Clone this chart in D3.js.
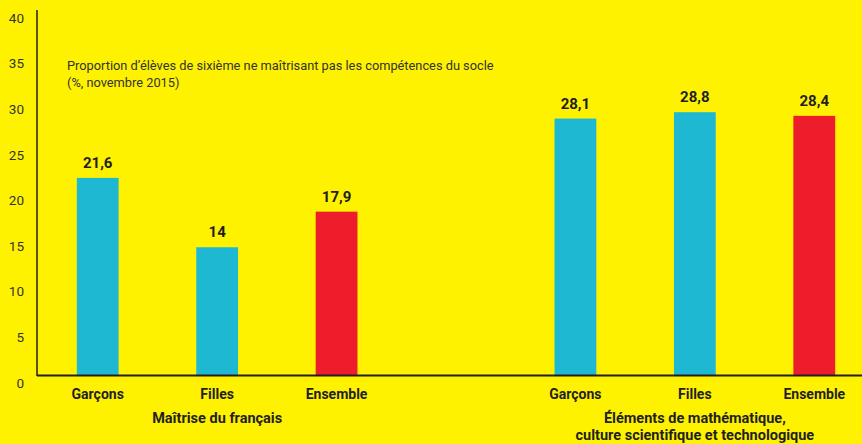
<!DOCTYPE html>
<html>
<head>
<meta charset="utf-8">
<script src="https://cdn.jsdelivr.net/npm/d3@7"></script>
<style>
  html, body { margin: 0; padding: 0; background: #fff200; }
  svg { display: block; font-family: "Roboto", "DejaVu Sans", sans-serif; }
</style>
</head>
<body>
<div id="chart"></div>
<script>
// data
const slots = ["fr-g", "fr-f", "fr-e", "gap", "ma-g", "ma-f", "ma-e"];
const categories = ["Garçons", "Filles", "Ensemble", "Garçons", "Filles", "Ensemble"];
const keys = ["fr-g", "fr-f", "fr-e", "ma-g", "ma-f", "ma-e"];
const values = [21.6, 14, 17.9, 28.1, 28.8, 28.4];
const isTotal = [false, false, true, false, false, true];
const groupLabels = [["Maîtrise du français"], ["Éléments de mathématique,", "culture scientifique et technologique"]];
const groupCenters = [["fr-f"], ["ma-f"]];
const yTicks = [0, 5, 10, 15, 20, 25, 30, 35, 40];
const titleLines = ["Proportion d’élèves de sixième ne maîtrisant pas les compétences du socle", "(%, novembre 2015)"];

const width = 862, height = 444;
const axisX = 37, baseY = 375, topY = 10;
const ink = "#231f20";

const svg = d3.select("#chart").append("svg")
  .attr("width", width)
  .attr("height", height);

svg.append("rect").attr("width", width).attr("height", height).attr("fill", "#fff200");

const x = d3.scaleBand().domain(slots).range([38, 874]).paddingInner(0.65).paddingOuter(0.325);
const y = d3.scaleLinear().domain([0, 40]).range([baseY, topY]);

// y tick labels (sit a little below their value, like the original)
svg.append("g").selectAll("text")
  .data(yTicks)
  .join("text")
  .attr("x", 24)
  .attr("y", d => y(d) + 8)
  .attr("dy", "0.35em")
  .attr("text-anchor", "end")
  .attr("font-size", 13.5)
  .attr("fill", "#333")
  .text(d => d);

// title
svg.append("g").selectAll("text")
  .data(titleLines)
  .join("text")
  .attr("x", 67)
  .attr("y", (d, i) => 70 + i * 17)
  .attr("font-size", 12.8)
  .attr("fill", "#333")
  .text(d => d);

// bars
svg.append("g").selectAll("rect")
  .data(values)
  .join("rect")
  .attr("x", (d, i) => x(keys[i]))
  .attr("width", x.bandwidth())
  .attr("y", d => y(d))
  .attr("height", d => baseY - y(d))
  .attr("fill", (d, i) => isTotal[i] ? "#ee1d2b" : "#1fb8d3");

// value labels
svg.append("g").selectAll("text")
  .data(values)
  .join("text")
  .attr("x", (d, i) => x(keys[i]) + x.bandwidth() / 2)
  .attr("y", d => y(d) - 10)
  .attr("text-anchor", "middle")
  .attr("font-size", 15)
  .attr("font-weight", "bold")
  .attr("fill", ink)
  .text(d => String(d).replace(".", ","));

// axes lines
svg.append("line")
  .attr("x1", axisX).attr("x2", axisX)
  .attr("y1", topY).attr("y2", baseY + 1)
  .attr("stroke", ink).attr("stroke-width", 1.5);
svg.append("line")
  .attr("x1", axisX).attr("x2", width)
  .attr("y1", baseY + 0.5).attr("y2", baseY + 0.5)
  .attr("stroke", ink).attr("stroke-width", 2);

// category labels
svg.append("g").selectAll("text")
  .data(categories)
  .join("text")
  .attr("x", (d, i) => x(keys[i]) + x.bandwidth() / 2)
  .attr("y", 399)
  .attr("text-anchor", "middle")
  .attr("font-size", 14)
  .attr("font-weight", "bold")
  .attr("fill", ink)
  .text(d => d);

// group labels
groupLabels.forEach((lines, g) => {
  svg.append("text")
    .attr("x", x(groupCenters[g][0]) + x.bandwidth() / 2)
    .attr("y", 423)
    .attr("text-anchor", "middle")
    .attr("font-size", 14.5)
    .attr("font-weight", "bold")
    .attr("fill", ink)
    .selectAll("tspan")
    .data(lines)
    .join("tspan")
    .attr("x", x(groupCenters[g][0]) + x.bandwidth() / 2)
    .attr("dy", (d, i) => i === 0 ? 0 : 17)
    .text(d => d);
});
</script>
</body>
</html>
